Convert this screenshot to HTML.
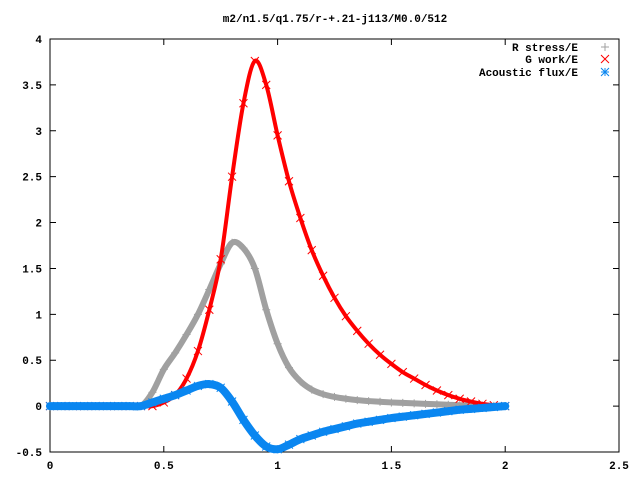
<!DOCTYPE html>
<html><head><meta charset="utf-8"><style>
body{margin:0;background:#fff}
text{font-family:"Liberation Mono","DejaVu Sans Mono",monospace;font-size:11px;font-weight:bold;fill:#000}
</style></head><body>
<svg id="c" width="640" height="480" xmlns="http://www.w3.org/2000/svg">
<rect width="640" height="480" fill="#fff"/>
<text x="335" y="22" text-anchor="middle">m2/n1.5/q1.75/r-+.21-j113/M0.0/512</text>
<g id="axes"></g><g id="plot"></g>
<g>
<text x="578" y="51" text-anchor="end">R stress/E</text>
<text x="578" y="63" text-anchor="end">G work/E</text>
<text x="578" y="76" text-anchor="end">Acoustic flux/E</text>
</g>
</svg>
<script>
const xs=[];for(let i=0;i<=40;i++)xs.push(i*0.05);
const rStress=[0,0,0,0,0,0,0,0,0,0.15,0.4,0.58,0.78,1.0,1.27,1.55,1.78,1.72,1.5,1.05,0.68,0.42,0.27,0.18,0.13,0.1,0.08,0.065,0.055,0.047,0.04,0.035,0.03,0.025,0.02,0.015,0.01,0.008,0.005,0.003,0];
const gWork=[0,0,0,0,0,0,0,0,0,0,0.04,0.12,0.3,0.6,1.05,1.6,2.5,3.3,3.76,3.5,2.95,2.45,2.05,1.7,1.42,1.18,0.98,0.82,0.68,0.56,0.46,0.37,0.3,0.23,0.17,0.12,0.08,0.05,0.025,0.01,0];
const aFlux=[0,0,0,0,0,0,0,0,0,0.04,0.08,0.12,0.17,0.22,0.24,0.2,0.05,-0.15,-0.32,-0.44,-0.47,-0.42,-0.36,-0.32,-0.28,-0.25,-0.22,-0.19,-0.17,-0.15,-0.13,-0.115,-0.1,-0.085,-0.07,-0.055,-0.04,-0.03,-0.02,-0.01,0];
const xTicks=[0,0.5,1,1.5,2,2.5];
const yTicks=[-0.5,0,0.5,1,1.5,2,2.5,3,3.5,4];
const L=50,R=619,T=39,B=452;
const X=v=>L+(v-0)/2.5*(R-L), Y=v=>B-(v+0.5)/4.5*(B-T);
const NS="http://www.w3.org/2000/svg";
function mk(t,a,p){const e=document.createElementNS(NS,t);for(const k in a)e.setAttribute(k,a[k]);p.appendChild(e);return e;}
const ax=document.getElementById('axes'),pl=document.getElementById('plot');
const fr=mk('rect',{x:L,y:T,width:R-L,height:B-T,fill:'none',stroke:'#000'},ax);


xTicks.forEach(v=>{
 const x=X(v);
 mk('path',{d:`M${x} ${B}v-6M${x} ${T}v6`,stroke:'#000'},ax);
 const t=mk('text',{x:x,y:B+17,'text-anchor':'middle'},ax);t.textContent=v;
 
 
});
yTicks.forEach(v=>{
 const y=Y(v);
 mk('path',{d:`M${L} ${y}h6M${R} ${y}h-6`,stroke:'#000'},ax);
 const t=mk('text',{x:L-8,y:y+4,'text-anchor':'end'},ax);t.textContent=v;
 
 
});
function marker(type,x,y,col,g){
 const s=4;let d;
 if(type==='plus')d=`M${x-s} ${y}h${2*s}M${x} ${y-s}v${2*s}`;
 else if(type==='x')d=`M${x-s} ${y-s}l${2*s} ${2*s}M${x-s} ${y+s}l${2*s} ${-2*s}`;
 else d=`M${x-s} ${y}h${2*s}M${x} ${y-s}v${2*s}M${x-s} ${y-s}l${2*s} ${2*s}M${x-s} ${y+s}l${2*s} ${-2*s}`;
 mk('path',{d:d,stroke:col,'stroke-width':1,fill:'none'},g);
}
function smooth(P){
 let d=`M${P[0][0]} ${P[0][1]}`;
 for(let i=0;i<P.length-1;i++){
  const p0=P[Math.max(0,i-1)],p1=P[i],p2=P[i+1],p3=P[Math.min(P.length-1,i+2)];
  const c1=[p1[0]+(p2[0]-p0[0])/6,p1[1]+(p2[1]-p0[1])/6];
  const c2=[p2[0]-(p3[0]-p1[0])/6,p2[1]-(p3[1]-p1[1])/6];
  d+=`C${c1[0]} ${c1[1]} ${c2[0]} ${c2[1]} ${p2[0]} ${p2[1]}`;
 }
 return d;
}
function series(name,vals,col,type,w){
 const g=mk('g',{},pl);
 
 
 const P=vals.map((v,i)=>[X(xs[i]),Y(v)]);
 mk('path',{d:smooth(P),fill:'none',stroke:col,'stroke-width':w,'stroke-linejoin':'round','stroke-linecap':'round'},g);
 P.forEach(p=>marker(type,p[0],p[1],col,g));
}
series('r-stress-series',rStress,'#a0a0a0','plus',6);
series('g-work-series',gWork,'#ff0000','x',4);
series('acoustic-flux-series',aFlux,'#0a86f0','star',8);
marker('plus',605,47,'#a0a0a0',pl);
marker('x',605,59,'#ff0000',pl);
marker('star',605,72,'#0a86f0',pl);
</script>
</body></html>
